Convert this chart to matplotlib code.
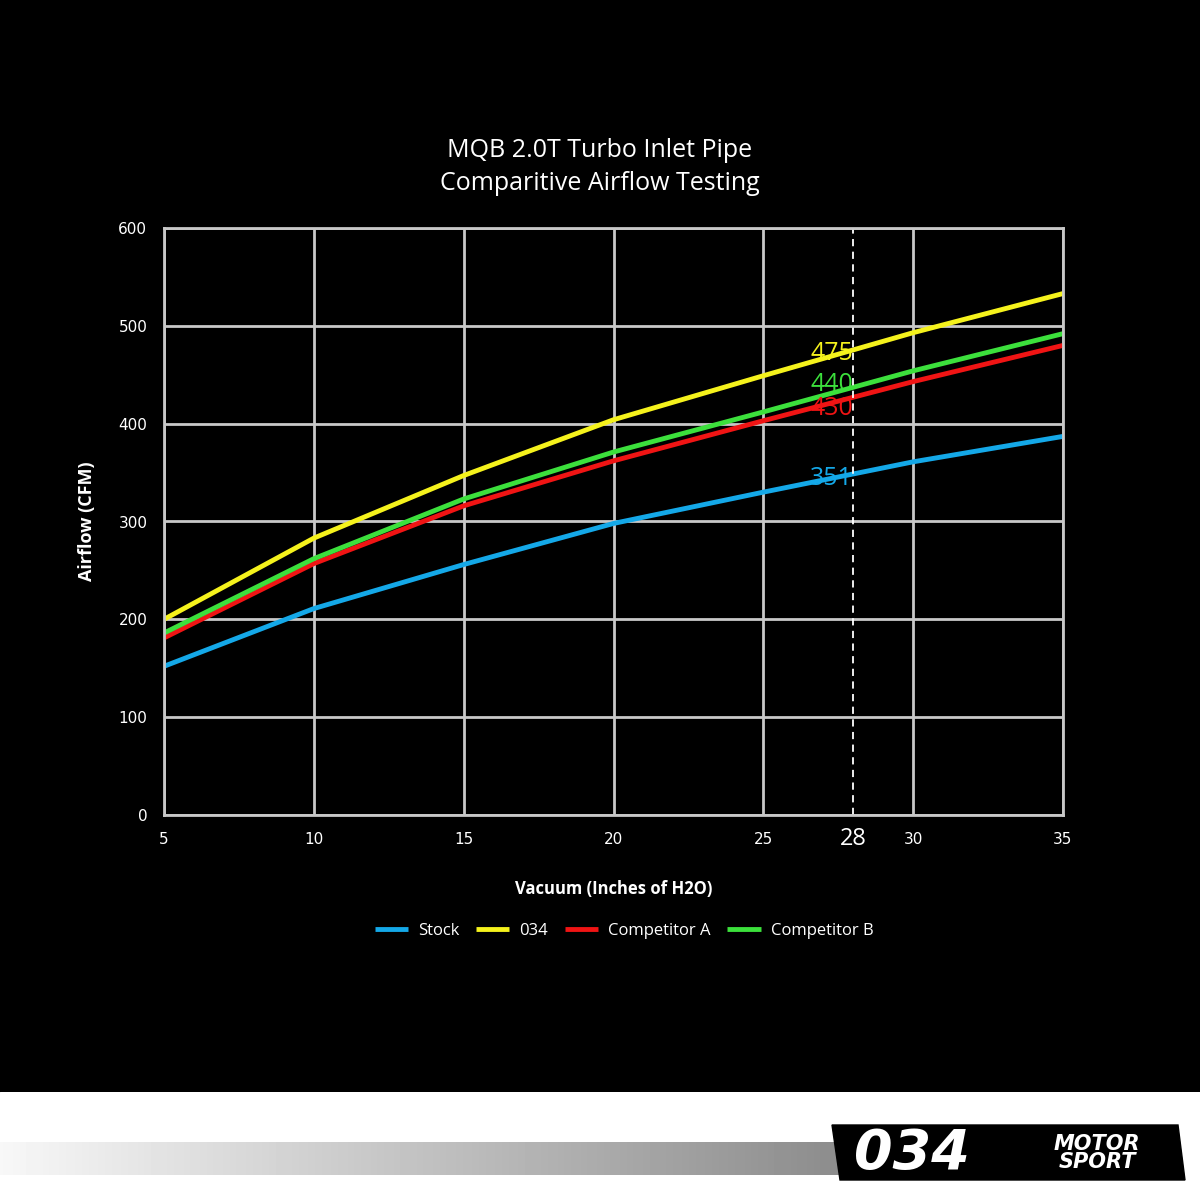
import matplotlib
matplotlib.use("Agg")
import matplotlib.pyplot as plt
import numpy as np

x = [5, 10, 15, 20, 25, 30, 35]
stock = [152, 211, 256, 298, 330, 361, 387]
s034 = [200, 283, 347, 404, 449, 493, 533]
compA = [181, 257, 316, 362, 403, 443, 480]
compB = [186, 262, 323, 371, 412, 454, 492]
names = ["Stock", "034", "Competitor A", "Competitor B"]
colors = ["#14a8e8", "#f5f21c", "#f01414", "#3ce03c"]
marks = ["351", "475", "430", "440"]
mark_y = [351, 475, 430, 440]
mark_dy = [-7, -3, -14, 0]

fig = plt.figure(figsize=(12, 12), dpi=100, facecolor="black")
ax = fig.add_axes([164/1200, 1-815/1200, 899/1200, 587/1200], facecolor="black")
for i, ys in enumerate([stock, s034, compA, compB]):
    ax.plot(x, ys, color=colors[i], lw=3.5, label=names[i], solid_capstyle="butt")
for i in range(4):
    ax.text(28.0, mark_y[i] + mark_dy[i], marks[i], color=colors[i], fontsize=18,
            ha="right", va="center", family="Open Sans")
ax.axvline(28, color="white", lw=1.3, ls=(0, (4, 3)))
ax.set_xlim(5, 35); ax.set_ylim(0, 600)
ax.set_xticks([5, 10, 15, 20, 25, 30, 35])
ax.set_yticks(range(0, 601, 100))
ax.grid(True, color="#c8c8c8", lw=2)
ax.set_axisbelow(True)
for s in ax.spines.values():
    s.set_color("#c8c8c8"); s.set_linewidth(2)
ax.tick_params(colors="white", length=0, labelsize=11, pad=12)
ax.text(28, -25, "28", color="white", fontsize=17, ha="center", va="center", family="Open Sans")
ax.set_xlabel("Vacuum (Inches of H2O)", color="white", fontsize=12, fontweight="bold", labelpad=24, family="Open Sans")
ax.set_ylabel("Airflow (CFM)", color="white", fontsize=13, fontweight="bold", labelpad=16, family="Open Sans")
fig.text(0.5, 1-167/1200, "MQB 2.0T Turbo Inlet Pipe\nComparitive Airflow Testing", color="white",
         fontsize=18, ha="center", va="center", linespacing=1.4, family="Open Sans")
leg = fig.legend(loc="center", bbox_to_anchor=(0.52, 1-931/1200), ncol=4, frameon=False,
                 handlelength=2.0, columnspacing=1.0, handletextpad=0.6,
                 prop={"family": "Open Sans", "size": 12})
for t in leg.get_texts():
    t.set_color("white")

# bottom band
band = fig.add_axes([0, 0, 1, 108/1200])
band.axis("off")
band.add_patch(plt.Rectangle((0, 0), 1200, 108, color="white", zorder=0))
grad = np.linspace(0.97, 0.55, 256)[None, :]
band.imshow(grad, cmap="gray", vmin=0, vmax=1, extent=(0, 840, 25, 58), aspect="auto", zorder=1)
band.add_patch(plt.Polygon([[840, 20], [832, 75], [1178, 75], [1185, 20]], color="black", zorder=2))
band.text(912, 46, "034", color="white", fontsize=40, fontweight="bold", style="italic",
          ha="center", va="center", zorder=3)
band.text(1097, 47, "MOTOR\nSPORT", color="white", fontsize=15, fontweight="bold", style="italic",
          ha="center", va="center", linespacing=0.85, zorder=3)
band.set_xlim(0, 1200); band.set_ylim(0, 108)
fig.savefig("out.png", facecolor="black")
